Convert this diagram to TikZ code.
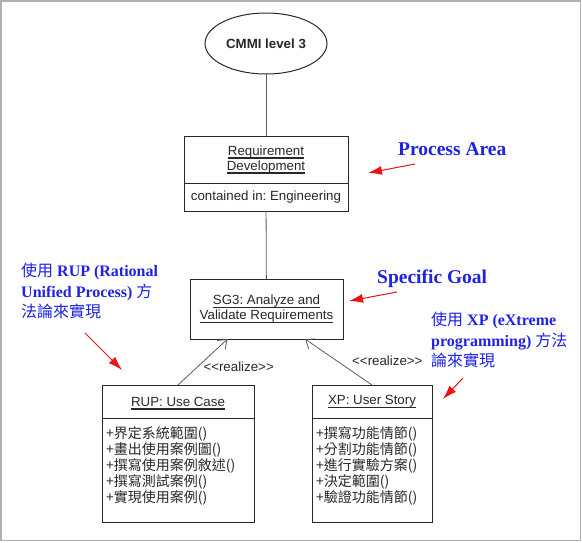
\documentclass[tikz,border=0pt]{standalone}
\usepackage{fontspec}
\setmainfont{Liberation Sans}
\newfontfamily\notefont{Liberation Serif}
\newfontfamily\cjk{Noto Sans CJK TC}
\usetikzlibrary{arrows.meta,positioning,shapes.geometric}
\frenchspacing
\definecolor{umlline}{RGB}{40,40,40}
\definecolor{connline}{RGB}{90,90,90}
\definecolor{notecolor}{RGB}{30,35,225}
\definecolor{pointercolor}{RGB}{232,20,20}
\definecolor{framegray}{RGB}{175,175,175}
\newcommand\umlul[1]{\leavevmode\setbox0\hbox{#1}\rlap{\raisebox{-3.6pt}[0pt][0pt]{\rule{\wd0}{1.3pt}}}\box0}
\newcommand\umltwo[2]{\begin{tabular}{@{}c@{}}\umlul{#1}\\\umlul{#2}\end{tabular}}
\tikzset{
  umlbox/.style={draw=umlline, line width=1pt, inner sep=0pt, outer sep=0pt,
    align=center, text=umlline, font=\fontsize{13.3}{15}\selectfont},
  opslist/.style={anchor=north west, inner sep=0pt, align=left, text=umlline,
    font=\cjk\fontsize{14}{16}\selectfont},
  conn/.style={draw=connline, line width=0.8pt},
  realize/.style={conn, -{Straight Barb[length=8pt,width=12pt]}},
  stereo/.style={text=umlline, font=\fontsize{13.3}{15}\selectfont},
  bignote/.style={anchor=base west, inner sep=0pt, text=notecolor,
    font=\notefont\bfseries\fontsize{19.5}{22}\selectfont},
  note/.style={anchor=north west, inner sep=0pt, align=left, text=notecolor,
    font=\notefont\fontsize{16}{20.5}\selectfont},
  pointer/.style={draw=pointercolor, line width=1pt, -{Latex[length=14pt,width=9pt]}},
}
\begin{document}
\begin{tikzpicture}[x=1pt,y=-1pt]
  \useasboundingbox (0,0) rectangle (582,542);
  \draw[framegray, line width=1.5pt] (1,1) rectangle (580.5,540.5);
  % uml part
  \node[umlbox, ellipse, minimum width=122pt, minimum height=61pt] (cmmi) at (266,43.5) {\bfseries CMMI level 3};
  \node[umlbox, minimum width=164pt, minimum height=47pt] (reqtitle) at (266,159.5) {\umltwo{Requirement}{Development}};
  \node[umlbox, minimum width=164pt, minimum height=28pt, below=0pt of reqtitle] (reqattr) {contained in: Engineering};
  \node[umlbox, minimum width=153pt, minimum height=60pt] (sg3) at (266.5,309) {\umltwo{SG3: Analyze and}{Validate Requirements}};
  \node[umlbox, minimum width=152pt, minimum height=33pt] (rupname) at (178,401.5) {\umlul{RUP: Use Case}};
  \node[umlbox, minimum width=152pt, minimum height=104pt, below=0pt of rupname] (rupops) {};
  \node[umlbox, minimum width=120pt, minimum height=33pt] (xpname) at (372,401.5) {\umlul{XP: User Story}};
  \node[umlbox, minimum width=120pt, minimum height=104pt, below=0pt of xpname] (xpops) {};
  \node[opslist] (rupitems) at ([xshift=4pt,yshift=-8pt]rupops.north west)
    {+界定系統範圍()\\+畫出使用案例圖()\\+撰寫使用案例敘述()\\+撰寫測試案例()\\+實現使用案例()};
  \node[opslist] (xpitems) at ([xshift=4pt,yshift=-8pt]xpops.north west)
    {+撰寫功能情節()\\+分割功能情節()\\+進行實驗方案()\\+決定範圍()\\+驗證功能情節()};
  \draw[conn] (cmmi) -- (reqtitle);
  \draw[conn] (reqattr) -- (sg3);
  \draw[realize] (rupname.north) -- node[stereo, pos=0.4, right=2pt] {<\kern0pt<realize>\kern0pt>} ([xshift=-39pt]sg3.south);
  \draw[realize] (xpname.north) -- node[stereo, pos=0.53, right=12pt] {<\kern0pt<realize>\kern0pt>} ([xshift=38.5pt]sg3.south);
  % notes
  \node[bignote] (pa) at (398,155) {Process Area};
  \node[bignote] (sg) at (377,283) {Specific Goal};
  \node[note] (rupnote) at (21,263) {{\cjk 使用} \textbf{RUP (Rational}\\\textbf{Unified Process)} {\cjk 方}\\{\cjk 法論來實現}};
  \node[note] (xpnote) at (431,312) {{\cjk 使用} \textbf{XP (eXtreme}\\\textbf{programming)} {\cjk 方法}\\{\cjk 論來實現}};
  \coordinate (pa1) at (415,164);
  \coordinate (pa2) at (368,173);
  \coordinate (sg1) at (397,292);
  \coordinate (sg2) at (349,301);
  \coordinate (rup1) at (85,333);
  \coordinate (rup2) at (122,370);
  \coordinate (xp1) at (463,378);
  \coordinate (xp2) at (443,399);
  \draw[pointer] (pa1) -- (pa2);
  \draw[pointer] (sg1) -- (sg2);
  \draw[pointer] (rup1) -- (rup2);
  \draw[pointer] (xp1) -- (xp2);
\end{tikzpicture}
\end{document}
